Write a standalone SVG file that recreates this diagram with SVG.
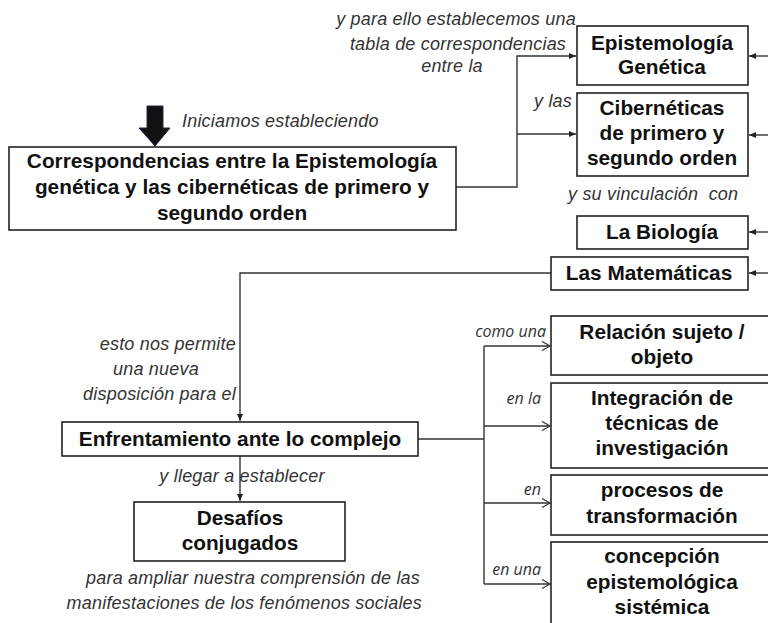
<svg xmlns="http://www.w3.org/2000/svg" width="768" height="623" viewBox="0 0 768 623">
<defs>
<marker id="tri" markerWidth="8" markerHeight="8" refX="7" refY="4" orient="auto" markerUnits="userSpaceOnUse">
<path d="M0,1 L7,4 L0,7 Z" fill="#222"/>
</marker>
<marker id="chev" markerWidth="12" markerHeight="12" refX="10" refY="6" orient="auto" markerUnits="userSpaceOnUse">
<path d="M2,1.5 L10,6 L2,10.5" fill="none" stroke="#333" stroke-width="1.2"/>
</marker>
</defs>
<style>
.box{fill:#fff;stroke:#222;stroke-width:1.6}
.bt{font-family:"Liberation Sans",Arial,sans-serif;font-weight:bold;font-size:20.8px;fill:#111;text-anchor:middle}
.it{font-family:"Liberation Sans",Arial,sans-serif;font-style:italic;font-size:18px;letter-spacing:0.2px;fill:#333}
.sm{font-family:"Open Sans","Liberation Sans",sans-serif;font-style:italic;font-size:16px;fill:#333;text-anchor:end}
.ln{fill:none;stroke:#333;stroke-width:1.4}
</style>
<rect width="768" height="623" fill="#fff"/>
<g id="connectors">
<path class="ln" d="M768,56 L749,56" marker-end="url(#tri)"/>
<path class="ln" d="M768,135 L749,135" marker-end="url(#tri)"/>
<path class="ln" d="M768,232 L749,232" marker-end="url(#tri)"/>
<path class="ln" d="M768,273 L749,273" marker-end="url(#tri)"/>
<path class="ln" d="M456,187 L517,187 L517,56 L576,56" marker-end="url(#tri)"/>
<path class="ln" d="M517,134 L576,134" marker-end="url(#tri)"/>
<path class="ln" d="M551,273 L240,273 L240,421" marker-end="url(#tri)"/>
<path class="ln" d="M240,456 L240,501" marker-end="url(#tri)"/>
<path class="ln" d="M418,439 L484,439"/>
<path class="ln" d="M484,346 L484,584"/>
<path class="ln" d="M484,346 L550,346" marker-end="url(#chev)"/>
<path class="ln" d="M484,426 L550,426" marker-end="url(#chev)"/>
<path class="ln" d="M484,503 L550,503" marker-end="url(#chev)"/>
<path class="ln" d="M484,584 L550,584" marker-end="url(#chev)"/>
<path d="M147,106 L163,106 L163,128 L170,128 L155,146 L139,128 L147,128 Z" fill="#111" stroke="#1f2a4a" stroke-width="1"/>
</g>
<g id="labels">
<text class="it" x="456" y="25" text-anchor="middle">y para ello establecemos una</text>
<text class="it" x="458" y="50" text-anchor="middle">tabla de correspondencias</text>
<text class="it" x="452" y="72" text-anchor="middle">entre la</text>
<text class="it" x="572" y="107" text-anchor="end">y las</text>
<text class="it" x="182" y="127">Iniciamos estableciendo</text>
<text class="it" x="568" y="200">y su vinculación&#160; con</text>
<text class="it" x="236" y="350" text-anchor="end">esto nos permite</text>
<text class="it" x="113" y="375">una nueva</text>
<text class="it" x="236" y="400" text-anchor="end">disposición para el</text>
<text class="it" x="242" y="482" text-anchor="middle">y llegar a establecer</text>
<text class="it" x="420" y="584" text-anchor="end">para ampliar nuestra comprensión de las</text>
<text class="it" x="422" y="609" text-anchor="end">manifestaciones de los fenómenos sociales</text>
<text class="sm" x="546" y="337">como una</text>
<text class="sm" x="541" y="404">en la</text>
<text class="sm" x="541" y="495">en</text>
<text class="sm" x="541" y="575">en una</text>
</g>
<g id="n-main">
<rect class="box" x="9" y="147" width="447" height="83"/>
<text class="bt" x="232" y="168">Correspondencias entre la Epistemología</text>
<text class="bt" x="232" y="194">genética y las cibernéticas de primero y</text>
<text class="bt" x="232" y="220">segundo orden</text>
</g>
<g id="n-epist">
<rect class="box" x="577" y="26" width="171" height="59"/>
<text class="bt" x="662" y="50">Epistemología</text>
<text class="bt" x="662" y="74">Genética</text>
</g>
<g id="n-ciber">
<rect class="box" x="577" y="93" width="171" height="83"/>
<text class="bt" x="662" y="115">Cibernéticas</text>
<text class="bt" x="662" y="140">de primero y</text>
<text class="bt" x="662" y="165">segundo orden</text>
</g>
<g id="n-bio">
<rect class="box" x="577" y="216" width="171" height="33"/>
<text class="bt" x="662" y="239">La Biología</text>
</g>
<g id="n-mat">
<rect class="box" x="551" y="257" width="197" height="33"/>
<text class="bt" x="649" y="280">Las Matemáticas</text>
</g>
<g id="n-enf">
<rect class="box" x="62" y="422" width="356" height="34"/>
<text class="bt" x="240" y="446">Enfrentamiento ante lo complejo</text>
</g>
<g id="n-des">
<rect class="box" x="134" y="502" width="211" height="59"/>
<text class="bt" x="240" y="525">Desafíos</text>
<text class="bt" x="240" y="550">conjugados</text>
</g>
<g id="n-rel">
<rect class="box" x="551" y="316" width="222" height="59"/>
<text class="bt" x="662" y="339">Relación sujeto /</text>
<text class="bt" x="662" y="364">objeto</text>
</g>
<g id="n-int">
<rect class="box" x="551" y="383" width="222" height="85"/>
<text class="bt" x="662" y="405">Integración de</text>
<text class="bt" x="662" y="430">técnicas de</text>
<text class="bt" x="662" y="455">investigación</text>
</g>
<g id="n-proc">
<rect class="box" x="551" y="475" width="222" height="60"/>
<text class="bt" x="662" y="497">procesos de</text>
<text class="bt" x="662" y="523">transformación</text>
</g>
<g id="n-conc">
<rect class="box" x="551" y="542" width="222" height="90"/>
<text class="bt" x="662" y="563">concepción</text>
<text class="bt" x="662" y="589">epistemológica</text>
<text class="bt" x="662" y="614">sistémica</text>
</g>
</svg>
